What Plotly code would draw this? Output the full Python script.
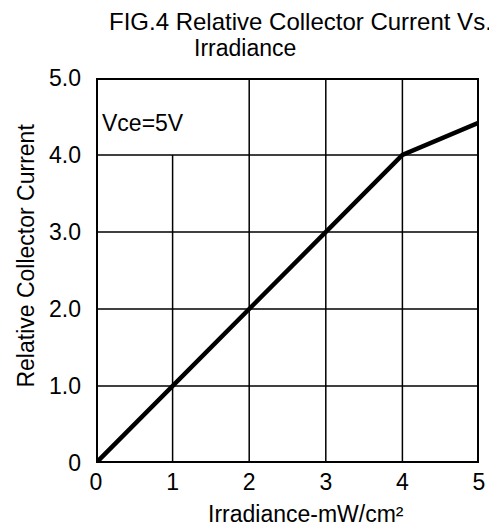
import plotly.graph_objects as go

irradiance = [0, 4, 5]
rel_current = [0, 4.0, 4.42]
x_ticks = [0, 1, 2, 3, 4, 5]
x_tick_text = ["0", "1", "2", "3", "4", "5"]
y_ticks = [0, 1, 2, 3, 4, 5]
y_tick_text = ["0", "1.0", "2.0", "3.0", "4.0", "5.0"]

FONT = "Liberation Sans, Arial, sans-serif"
FS = 23

# page body has an 8px margin; work in page pixels and convert
OFF = 8
W, H = 497 - OFF, 529 - OFF
L, R, T, B = 96, 482, 78, 463  # plot area in page pixels


def px(x):
    return (x - L) / (R - L)


def py(y):
    return (B - y) / (B - T)


fig = go.Figure()
fig.add_trace(go.Scatter(x=irradiance, y=rel_current, mode="lines",
                         line=dict(color="black", width=4.5), showlegend=False,
                         hoverinfo="skip"))

shapes = []
for xv in [1, 2, 3, 4]:
    y_top = 4 if xv == 1 else 5
    shapes.append(dict(type="line", xref="x", yref="y", x0=xv, x1=xv, y0=0, y1=y_top,
                       line=dict(color="black", width=1.5), layer="below"))
for yv in [1, 2, 3, 4]:
    shapes.append(dict(type="line", xref="x", yref="y", x0=0, x1=5, y0=yv, y1=yv,
                       line=dict(color="black", width=1.5), layer="below"))
shapes.append(dict(type="rect", xref="x", yref="y", x0=0, x1=5, y0=0, y1=5,
                   line=dict(color="black", width=4), layer="above"))

fig.update_layout(
    width=W, height=H,
    margin=dict(l=L - OFF, r=497 - R, t=T - OFF, b=529 - B),
    plot_bgcolor="white", paper_bgcolor="white",
    font=dict(family=FONT, size=FS, color="black"),
    shapes=shapes,
    annotations=[
        dict(text="FIG.4 Relative Collector Current Vs.", xref="paper", yref="paper",
             x=px(107), y=py(21), xanchor="left", yanchor="middle",
             showarrow=False, font=dict(size=24)),
        dict(text="Irradiance", xref="paper", yref="paper",
             x=px(193), y=py(48), xanchor="left", yanchor="middle",
             showarrow=False, font=dict(size=FS)),
        dict(text="Vce=5V", xref="paper", yref="paper", x=px(100), y=py(123),
             xanchor="left", yanchor="middle", showarrow=False, font=dict(size=FS)),
        dict(text="Irradiance-mW/cm²", xref="paper", yref="paper",
             x=px(207), y=py(514), xanchor="left", yanchor="middle",
             showarrow=False, font=dict(size=FS)),
        dict(text="Relative Collector Current", xref="paper", yref="paper",
             x=px(25), y=py(256), xanchor="center", yanchor="middle", textangle=-90,
             showarrow=False, font=dict(size=FS)),
    ],
    xaxis=dict(range=[0, 5], tickvals=x_ticks, ticktext=x_tick_text, showgrid=False,
               zeroline=False, showline=False, ticks="", tickfont=dict(size=FS),
               ticklabelstandoff=3),
    yaxis=dict(range=[0, 5], tickvals=y_ticks, ticktext=y_tick_text, showgrid=False,
               zeroline=False, showline=False, ticks="", tickfont=dict(size=FS),
               ticklabelstandoff=14),
)

fig.write_html("out.html")
